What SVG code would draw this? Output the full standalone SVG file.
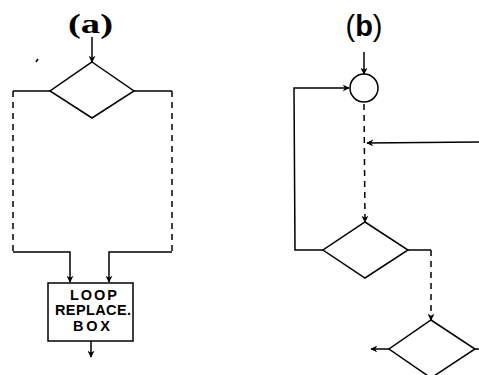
<svg xmlns="http://www.w3.org/2000/svg" width="479" height="375" viewBox="0 0 479 375">
<defs>
<marker id="ah" viewBox="0 0 10 10" refX="9" refY="5" markerWidth="7" markerHeight="7" orient="auto" markerUnits="userSpaceOnUse">
<path d="M0,0 L10,5 L0,10 L3,5 z" fill="#000"/>
</marker>
<linearGradient id="tg" x1="0" x2="1" y1="0" y2="0">
<stop offset="0" stop-color="#ddd"/>
<stop offset="0.4" stop-color="#333"/>
<stop offset="1" stop-color="#000"/>
</linearGradient>
</defs>
<style>
.s{fill:none;stroke:#000;stroke-width:1.5}
.d{fill:none;stroke:#000;stroke-width:1.5;stroke-dasharray:6,5}
.n{fill:#fff;stroke:#000;stroke-width:1.5}
.t{font-family:"Liberation Sans",Arial,sans-serif;font-weight:bold;font-size:14.5px}
</style>
<rect width="479" height="375" fill="#fff"/>
<line x1="50" y1="0.8" x2="479" y2="0.8" stroke="url(#tg)" stroke-width="1.6"/>
<path d="M36,62 L38,59" stroke="#000" stroke-width="1.5"/>
<text x="68" y="33" font-family="'Liberation Serif',serif" font-weight="bold" font-size="28" textLength="45" lengthAdjust="spacingAndGlyphs">(a)</text>
<text x="364" y="36" font-family="'Liberation Sans',Arial,sans-serif" font-weight="bold" font-size="29" text-anchor="middle"><tspan font-weight="normal">(</tspan>b<tspan font-weight="normal">)</tspan></text>
<g id="connectors">
<line class="s" x1="92" y1="37" x2="92" y2="62" marker-end="url(#ah)"/>
<line class="s" x1="50" y1="91" x2="13" y2="91"/>
<line class="d" x1="13" y1="91" x2="13" y2="252"/>
<line class="s" x1="134" y1="91" x2="172" y2="91"/>
<line class="d" x1="172" y1="91" x2="172" y2="252"/>
<polyline class="s" points="13,252 70,252 70,282" marker-end="url(#ah)"/>
<polyline class="s" points="172,252 109,252 109,282" marker-end="url(#ah)"/>
<line class="s" x1="91" y1="341" x2="91" y2="357" marker-end="url(#ah)"/>
<line class="s" x1="364" y1="52" x2="364" y2="74" marker-end="url(#ah)"/>
<polyline class="s" points="323,250 295,250 294,88 349,88" marker-end="url(#ah)"/>
<line class="d" x1="364" y1="104" x2="365" y2="222" marker-end="url(#ah)"/>
<line class="s" x1="479" y1="142" x2="367" y2="143" marker-end="url(#ah)"/>
<polyline class="s" points="408,250 431,250"/>
<line class="d" x1="431" y1="250" x2="431" y2="320" marker-end="url(#ah)"/>
<line class="s" x1="389" y1="349" x2="371" y2="349" marker-end="url(#ah)"/>
<line class="s" x1="475" y1="349" x2="479" y2="349"/>
</g>
<g id="decision-a">
<polygon class="n" points="92,62 134,91 92,118 50,91"/>
</g>
<g id="loop-replace-box">
<rect class="n" x="48" y="283" width="85" height="58"/>
<text class="t" x="70" y="300" textLength="47">LOOP</text>
<text class="t" x="55" y="315" textLength="76">REPLACE.</text>
<text class="t" x="73" y="331" textLength="37">BOX</text>
</g>
<g id="connector-circle">
<circle class="n" cx="364" cy="88" r="14"/>
</g>
<g id="decision-b1">
<polygon class="n" points="365,222 408,250 365,278 323,250"/>
</g>
<g id="decision-b2">
<polygon class="n" points="431,320 475,349 431,378 389,349"/>
</g>
</svg>
